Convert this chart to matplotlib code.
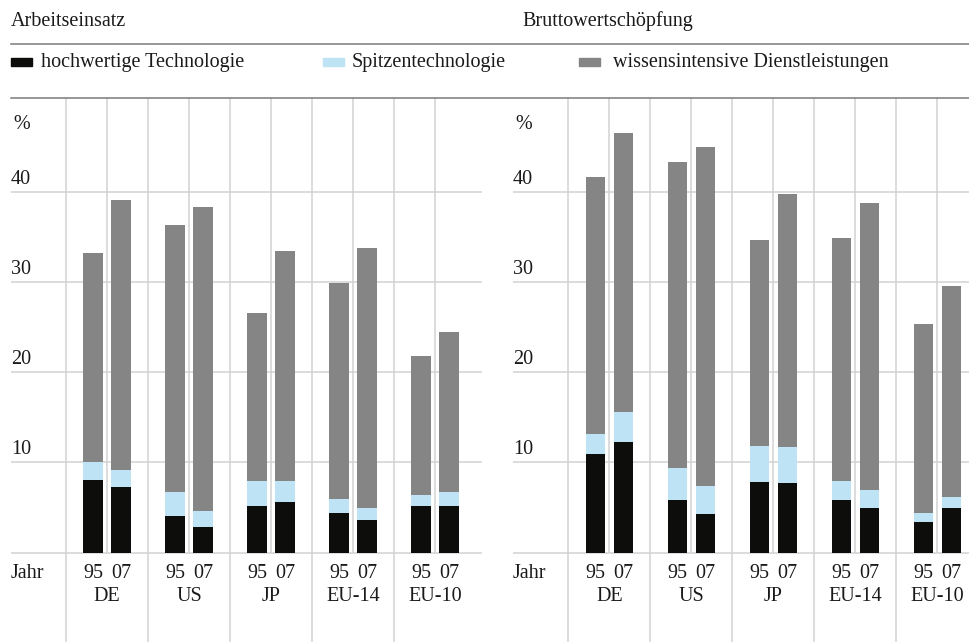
import numpy as np
import matplotlib
matplotlib.use("Agg")
import matplotlib.pyplot as plt
from matplotlib.lines import Line2D
import matplotlib.transforms as mtransforms

plt.rcParams['font.family'] = ['Liberation Serif', 'DejaVu Serif']
FS = 14.5
TXT = '#1a1a1a'

# data (order: DE 95, DE 07, US 95, US 07, JP 95, JP 07, EU-14 95, EU-14 07, EU-10 95, EU-10 07)
countries = ['DE', 'US', 'JP', 'EU-14', 'EU-10']
years = ['95', '07']
series_names = ['hochwertige Technologie', 'Spitzentechnologie',
                'wissensintensive Dienstleistungen']
colors = ['#0d0d0b', '#bde3f5', '#848584']

arbeit_hochwertig = [8.1, 7.3, 4.1, 2.8, 5.2, 5.6, 4.4, 3.6, 5.2, 5.2]
arbeit_spitze = [2.0, 1.9, 2.6, 1.8, 2.8, 2.3, 1.6, 1.3, 1.2, 1.5]
arbeit_wissen = [23.1, 29.9, 29.6, 33.7, 18.6, 25.5, 23.9, 28.9, 15.4, 17.7]

brutto_hochwertig = [10.9, 12.3, 5.8, 4.3, 7.8, 7.7, 5.8, 4.9, 3.4, 4.9]
brutto_spitze = [2.2, 3.3, 3.6, 3.1, 4.0, 4.0, 2.1, 2.0, 1.0, 1.3]
brutto_wissen = [28.5, 30.9, 33.9, 37.6, 22.9, 28.1, 27.0, 31.8, 20.9, 23.4]

yticks = [10, 20, 30, 40]

W, H = 970, 642
fig = plt.figure(figsize=(W / 100, H / 100), dpi=100)

# pixel geometry
top_px = 98
zero_px = 552.7
px_per_unit = 9.025
ymax = (zero_px - top_px) / px_per_unit
ymin = -(H - zero_px) / px_per_unit
grp_px = 82.0


def make_panel(left_px, right_px, center0_px, hoch, spitze, wissen, title, title_px):
    ax = fig.add_axes([left_px / W, 0, (right_px - left_px) / W, (H - top_px) / H])
    x0 = (left_px - center0_px) / grp_px
    x1 = (right_px - center0_px) / grp_px
    ax.set_xlim(x0, x1)
    ax.set_ylim(ymin, ymax)
    ax.axis('off')

    grid_c = '#d2d2d2'
    ax.hlines([0] + yticks, x0, x1, color=grid_c, lw=1.1, zorder=1)
    n = len(countries)
    centers = np.arange(n)
    # lines between groups run to the bottom, lines inside groups stop at 0
    ax.vlines(centers - 0.5, ymin, ymax, color=grid_c, lw=1.1, zorder=1)
    ax.vlines(centers, 0, ymax, color=grid_c, lw=1.1, zorder=1)

    off = 0.17
    bw = 0.235
    xs = np.ravel([[c - off, c + off] for c in centers])
    hoch = np.array(hoch)
    spitze = np.array(spitze)
    wissen = np.array(wissen)
    ax.bar(xs, hoch, bw, color=colors[0], zorder=3)
    ax.bar(xs, spitze, bw, bottom=hoch, color=colors[1], zorder=3)
    ax.bar(xs, wissen, bw, bottom=hoch + spitze, color=colors[2], zorder=3)

    trans = mtransforms.blended_transform_factory(ax.transAxes, ax.transData)
    for v in yticks:
        ax.text(0, v + 0.35, str(v), transform=trans, ha='left', va='bottom',
                fontsize=FS, color=TXT)
    ax.text(0.005, 46.4, '%', transform=trans, ha='left', va='bottom',
            fontsize=FS, color=TXT)
    ax.text(0, -2.25, 'Jahr', transform=trans, ha='left', va='center',
            fontsize=FS, color=TXT)
    for i, c in enumerate(countries):
        for j, yr in enumerate(years):
            ax.text(xs[2 * i + j], -2.25, yr, ha='center', va='center',
                    fontsize=FS, color=TXT)
        ax.text(centers[i], -4.85, c, ha='center', va='center',
                fontsize=FS, color=TXT)

    fig.text(title_px / W, 1 - 26 / H, title,
             ha='left', va='baseline', fontsize=FS, color=TXT)
    return ax


make_panel(11, 482, 107, arbeit_hochwertig, arbeit_spitze, arbeit_wissen,
           'Arbeitseinsatz', 11)
make_panel(513, 970, 609.3, brutto_hochwertig, brutto_spitze, brutto_wissen,
           'Bruttowertschöpfung', 522)

# header rules
for ypx in (43.7, 97.7):
    fig.add_artist(Line2D([11 / W, 1], [1 - ypx / H, 1 - ypx / H],
                          color='#7a7a7a', lw=1.1))

# legend row
swatch_x = [11, 323, 579]
label_x = [41, 352, 612.7]
for sx, lx, name, col in zip(swatch_x, label_x, series_names, colors):
    fig.add_artist(plt.Rectangle((sx / W, 1 - 65.7 / H), 21 / W, 7.4 / H,
                                 transform=fig.transFigure, color=col))
    fig.text(lx / W, 1 - 66.5 / H, name, ha='left', va='baseline',
             fontsize=FS, color=TXT)

fig.savefig('out.png', dpi=100)
